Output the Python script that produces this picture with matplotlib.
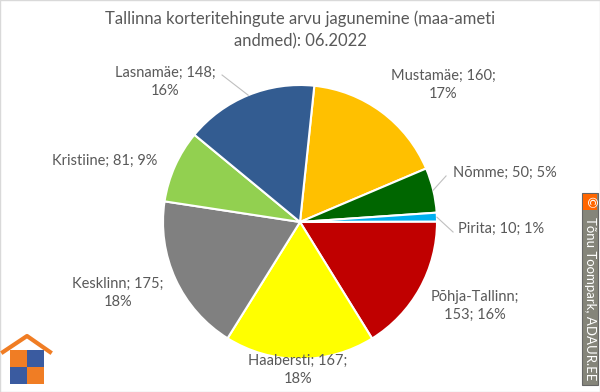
import numpy as np
import matplotlib
matplotlib.use("Agg")
import matplotlib.pyplot as plt
from matplotlib.patches import Rectangle

# data (clockwise from top)
districts = ["Mustamäe", "Nõmme", "Pirita", "Põhja-Tallinn", "Haabersti",
             "Kesklinn", "Kristiine", "Lasnamäe"]
deals = [160, 50, 10, 153, 167, 175, 81, 148]
shares = [17, 5, 1, 16, 18, 18, 9, 16]   # % as printed on the chart
colors = ["#FFC000", "#006600", "#00B0F0", "#C00000", "#FFFF00",
          "#808080", "#92D050", "#335C91"]

# label layout (pie radius units), alignment and line breaks
label_xy = [(1.044, 1.0), (1.117, 0.358), (1.153, -0.051), (1.277, -0.613),
            (-0.015, -1.08), (-1.328, -0.518), (-1.427, 0.445), (-0.985, 1.022)]
label_ha = ["center", "left", "left", "center", "center", "center", "center", "center"]
label_fmt = ["{n}; {v};\n{p}%", "{n}; {v}; {p}%", "{n}; {v}; {p}%", "{n};\n{v}; {p}%",
             "{n}; {v};\n{p}%", "{n}; {v};\n{p}%", "{n}; {v}; {p}%", "{n}; {v};\n{p}%"]
leader_end = {1: (1.066, 0.336), 2: (1.117, -0.073), 7: (-0.569, 1.073)}

plt.rcParams['font.family'] = ['Lato', 'DejaVu Sans']
txt_col = "#595959"

W, H, R = 600, 392, 137.0
cx, cy = 300, 222
fig = plt.figure(figsize=(6, 3.92), dpi=100)
ax = fig.add_axes([0, 0, 1, 1])

wedges, _ = ax.pie(deals, colors=colors, startangle=84, counterclock=False,
                   radius=1, wedgeprops=dict(edgecolor="white", linewidth=1.5))
ax.set_xlim(-cx / R, (W - cx) / R)
ax.set_ylim(-(H - cy) / R, cy / R)
ax.axis("off")

for i, w in enumerate(wedges):
    s = label_fmt[i].format(n=districts[i], v=deals[i], p=shares[i])
    x, y = label_xy[i]
    ax.text(x, y, s, ha=label_ha[i], va="center", fontsize=10.5, color=txt_col,
            linespacing=1.35)
    if i in leader_end:
        ang = np.deg2rad((w.theta1 + w.theta2) / 2)
        ex, ey = leader_end[i]
        ax.plot([np.cos(ang), ex], [np.sin(ang), ey], color="#BFBFBF", lw=0.8)

fig.text(0.5, 1 - 30 / H, "Tallinna korteritehingute arvu jagunemine (maa-ameti\nandmed): 06.2022",
         ha="center", va="center", fontsize=12, color=txt_col, linespacing=1.45)

# watermark on the right
fig.patches.append(Rectangle((582 / W, 1 - 385 / H), 16 / W, 192 / H, transform=fig.transFigure,
                             facecolor="#85857A", edgecolor="#666666", lw=0.8))
fig.patches.append(Rectangle((583 / W, 1 - 210 / H), 14 / W, 16 / H, transform=fig.transFigure,
                             facecolor="#FF6600", edgecolor="none"))
fig.text(590 / W, 1 - 202 / H, "©", rotation=270, ha="center", va="center",
         color="white", fontsize=10)
fig.text(590 / W, 1 - 299 / H, "Tõnu Toompark, ADAUR.EE", rotation=270, ha="center",
         va="center", color="white", fontsize=9.5)

# logo bottom-left
orange, blue = "#F07D24", "#3A5BA0"
fig.lines.append(plt.Line2D([3 / W, 27 / W, 50 / W], [1 - 352 / H, 1 - 336 / H, 1 - 352 / H],
                            transform=fig.transFigure, color=orange, lw=3))
for (x0, y0, c) in [(10, 350, orange), (27, 350, blue), (10, 367, blue), (27, 367, orange)]:
    fig.patches.append(Rectangle((x0 / W, 1 - (y0 + 17) / H), 17 / W, 17 / H,
                                 transform=fig.transFigure, facecolor=c, edgecolor="none"))

# frame
fig.patches.append(Rectangle((0, 0), 1, 1, transform=fig.transFigure, fill=False,
                             edgecolor="#D9D9D9", lw=1))

fig.savefig("out.png", dpi=100)
